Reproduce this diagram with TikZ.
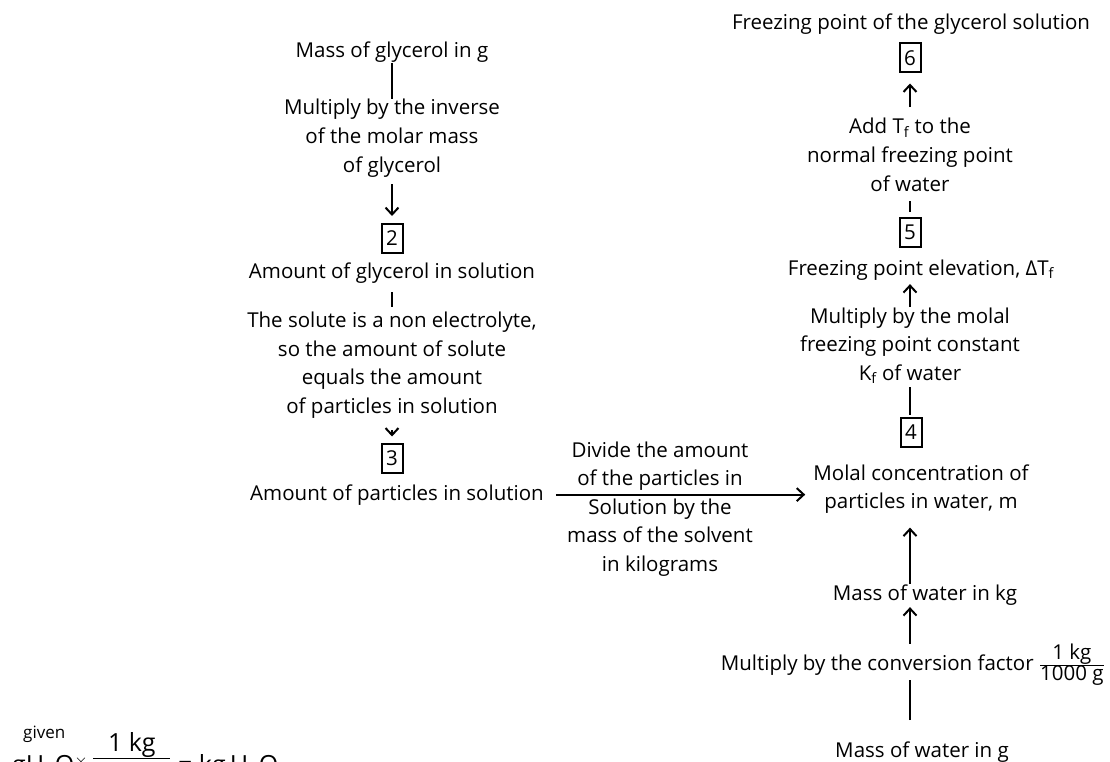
\documentclass[tikz,border=0pt]{standalone}
\usepackage{fontspec}
\setmainfont{Open Sans}
\usetikzlibrary{arrows.meta}
\tikzset{
  txt/.style={anchor=base, align=center, inner sep=0pt,
              font=\fontsize{20.5}{28.5}\selectfont},
  numbox/.style={draw, line width=2pt, minimum width=21pt, minimum height=29pt,
                 inner sep=0pt, font=\fontsize{20.5}{24}\selectfont},
  link/.style={line width=2pt},
  flow/.style={line width=2pt, -{Straight Barb[length=7pt,width=13pt]}},
}

\begin{document}
\begin{tikzpicture}[x=1pt, y=-1pt]
    \clip (0,0) rectangle (1110,762);
    \coordinate (axisR) at (910,0);

    % left column: glycerol (multi-line nodes sit on their last baseline)
    \node[txt] (mgly) at (392,58) {Mass of glycerol in g};
    \node[txt] (inv) at (392,172) {Multiply by the inverse\\of the molar mass\\of glycerol};
    \node[numbox] (b2) at (392,238.5) {2};
    \node[txt] (agly) at (392,278) {Amount of glycerol in solution};
    \node[txt] (solute) at (392,413) {The solute is a non electrolyte,\\so the amount of solute\\equals the amount\\of particles in solution};
    \node[numbox] (b3) at (392,458) {3};
    \node[txt] (apis) at (397,500) {Amount of particles in solution};

    % middle step
    \node[txt] (dtext) at (660,571) {Divide the amount\\of the particles in\\Solution by the\\mass of the solvent\\in kilograms};

    % right column: water and freezing point
    \node[txt] (fp) at (911,30) {Freezing point of the glycerol solution};
    \node[numbox] (b6) at (910,58) {6};
    \node[txt] (add) at (910,191) {Add T\textsubscript{f} to the\\normal freezing point\\of water};
    \node[numbox] (b5) at (910,232) {5};
    \node[txt] (fpe) at (921,275) {Freezing point elevation, ΔT\textsubscript{f}};
    \node[txt] (molk) at (910,380) {Multiply by the molal\\freezing point constant\\K\textsubscript{f} of water};
    \node[numbox] (b4) at (911,432) {4};
    \node[txt] (molal) at (921,508.5) {Molal concentration of\\particles in water, m};
    \node[txt] (mwkg) at (925,600) {Mass of water in kg};
    \node[txt, anchor=base east] (conv) at (1105,670) {Multiply by the conversion factor $\frac{\mbox{1 kg}}{\mbox{1000 g}}$};
    \node[txt] (mwg) at (922,757) {Mass of water in g};

    % worked conversion, cut by the lower edge
    \node[anchor=base west, inner sep=0pt, font=\fontsize{17}{17}\selectfont] (given) at (23,738) {given};
    \node[anchor=base west, inner sep=0pt, font=\fontsize{25}{30}\selectfont] (eqn) at (12,773)
        {gH\textsubscript{2}O\raisebox{7pt}{\fontsize{16}{16}\selectfont$\times$}\,\raisebox{9pt}{$\frac{\mbox{1 kg}}{\phantom{\mbox{1000 g}}}$}\ =\ kg\,H\textsubscript{2}O};

    % connectors
    \draw[link] (mgly) -- (inv);
    \draw[flow, shorten <=7pt, shorten >=7pt] (inv) -- (b2);
    \draw[link, shorten <=9pt, shorten >=5pt] (agly) -- (solute);
    \draw[flow, shorten <=12pt, shorten >=6pt] (solute) -- (b3);
    \draw[flow, shorten <=12pt, shorten >=8pt] (apis) -- (apis -| molal.west);

    \draw[flow, shorten <=11pt, shorten >=10pt] (add) -- (b6);
    \draw[link, shorten <=10pt, shorten >=5pt] (add) -- (b5);
    \draw[flow, shorten >=4pt] (axisR |- molk.north) -- (axisR |- fpe.south);
    \draw[link, shorten <=3pt, shorten >=2pt] (axisR |- molk.south) -- (axisR |- b4.north);
    \draw[flow, shorten >=14pt] (axisR |- mwkg.north) -- (axisR |- molal.south);
    \draw[flow, shorten >=2pt] (axisR |- conv.north) -- (axisR |- mwkg.south);
    \draw[link, shorten <=21pt, shorten >=10pt] (axisR |- mwg.north) -- (axisR |- conv.base);
\end{tikzpicture}
\end{document}
